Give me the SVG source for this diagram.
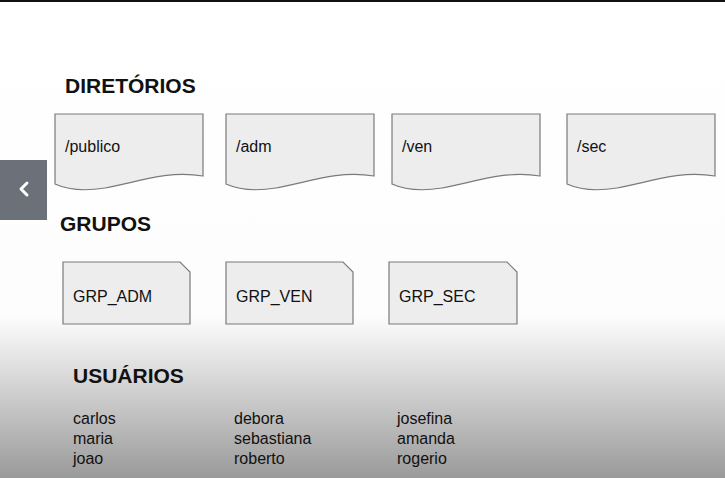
<svg xmlns="http://www.w3.org/2000/svg" width="725" height="478" viewBox="0 0 725 478">
<defs>
<linearGradient id="bg" x1="0" y1="0" x2="0" y2="478" gradientUnits="userSpaceOnUse">
<stop offset="0" stop-color="#ffffff"/>
<stop offset="0.66" stop-color="#fdfdfd"/>
<stop offset="0.75" stop-color="#e4e4e4"/>
<stop offset="1" stop-color="#9a9a9a"/>
</linearGradient>
<style>
.doc{fill:#ededed;stroke:#7a7a7a;stroke-width:1.2}
.lbl{font-family:"Liberation Sans",Arial,sans-serif;font-size:16px;fill:#111}
.hd{font-family:"Liberation Sans",Arial,sans-serif;font-size:21px;font-weight:bold;fill:#111}
</style>
</defs>
<rect x="0" y="0" width="725" height="478" fill="url(#bg)"/>
<rect x="0" y="0" width="725" height="2" fill="#111"/>
<g id="nav">
<rect x="0" y="160" width="47" height="60" fill="#6c7079"/>
<polyline points="27,183 21,189 27,195" fill="none" stroke="#ffffff" stroke-width="3" stroke-linecap="round" stroke-linejoin="round"/>
</g>
<text class="hd" x="65" y="93">DIRETÓRIOS</text>
<text class="hd" x="60" y="231">GRUPOS</text>
<text class="hd" x="73" y="383">USUÁRIOS</text>
<g id="dir-publico">
<path class="doc" d="M55,114 H203 V176 C165,170 135,183 105,188 C80,192 66,189 55,184 Z"/>
<text class="lbl" x="65" y="152">/publico</text>
</g>
<g id="dir-adm">
<path class="doc" d="M226,114 H374 V176 C336,170 306,183 276,188 C251,192 237,189 226,184 Z"/>
<text class="lbl" x="236" y="152">/adm</text>
</g>
<g id="dir-ven">
<path class="doc" d="M392,114 H540 V176 C502,170 472,183 442,188 C417,192 403,189 392,184 Z"/>
<text class="lbl" x="402" y="152">/ven</text>
</g>
<g id="dir-sec">
<path class="doc" d="M567,114 H715 V176 C677,170 647,183 617,188 C592,192 578,189 567,184 Z"/>
<text class="lbl" x="577" y="152">/sec</text>
</g>
<g id="grp-adm">
<path class="doc" d="M63,262 H180 L190,272 V324 H63 Z"/>
<text class="lbl" x="73" y="302">GRP_ADM</text>
</g>
<g id="grp-ven">
<path class="doc" d="M226,262 H343 L353,272 V324 H226 Z"/>
<text class="lbl" x="236" y="302">GRP_VEN</text>
</g>
<g id="grp-sec">
<path class="doc" d="M389,262 H507 L517,272 V324 H389 Z"/>
<text class="lbl" x="399" y="302">GRP_SEC</text>
</g>
<g id="users-1">
<text class="lbl" x="73" y="424">carlos</text>
<text class="lbl" x="73" y="444">maria</text>
<text class="lbl" x="73" y="464">joao</text>
</g>
<g id="users-2">
<text class="lbl" x="234" y="424">debora</text>
<text class="lbl" x="234" y="444">sebastiana</text>
<text class="lbl" x="234" y="464">roberto</text>
</g>
<g id="users-3">
<text class="lbl" x="397" y="424">josefina</text>
<text class="lbl" x="397" y="444">amanda</text>
<text class="lbl" x="397" y="464">rogerio</text>
</g>
<g id="connectors"></g>
</svg>
